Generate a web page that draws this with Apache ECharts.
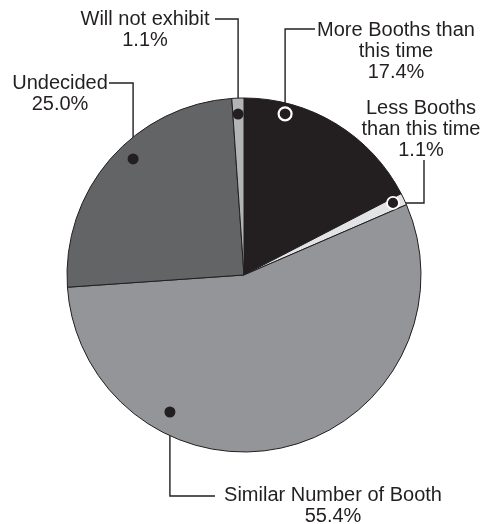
<!DOCTYPE html>
<html>
<head>
<meta charset="utf-8">
<script src="https://cdn.jsdelivr.net/npm/echarts@6/dist/echarts.min.js"></script>
<style>
html,body{margin:0;padding:0;background:#fff;}
#c{width:497px;height:524px;}
</style>
</head>
<body>
<div id="c"></div>
<script>
// ---- data ----
const categories = ['More Booths than\nthis time', 'Less Booths\nthan this time', 'Similar Number of Booth', 'Undecided', 'Will not exhibit'];
const percents = [17.4, 1.1, 55.4, 25.0, 1.1];
// marker positions inside the slices (angle clockwise from 12 o'clock, radius as fraction of pie radius)
const markerAngle = [14.3, 64.2, 208.4, 316.3, 357.9];
const markerRadius = [0.94, 0.935, 0.88, 0.907, 0.91];

// ---- style / layout ----
const colors = ['#231f20', '#e2e3e4', '#939598', '#636466', '#b2b4b6'];
const markerStyle = [
  {size: 13, border: 2.2},
  {size: 12, border: 1.8},
  {size: 11, border: 0},
  {size: 11, border: 0},
  {size: 11, border: 0}
];
const CX = 244, CY = 275, R = 177;
// label block: centre x, top y ; leader: corner, end
const labelPos = [
  {x: 396, y: 19.5, corner: 'v', endX: 315, endY: 29},
  {x: 421, y: 97.5, corner: 'h', endX: 424, endY: 160},
  {x: 333, y: 484.5, corner: 'v', endX: 215, endY: 496},
  {x: 60, y: 72.5, corner: 'v', endX: 109, endY: 83},
  {x: 145, y: 8.5, corner: 'v', endX: 215, endY: 19}
];

function markerXY(i) {
  const a = markerAngle[i] * Math.PI / 180;
  const r = markerRadius[i] * R;
  return [CX + r * Math.sin(a), CY - r * Math.cos(a)];
}

const chart = echarts.init(document.getElementById('c'), null, {renderer: 'canvas'});
const option = {
  animation: false,
  backgroundColor: '#ffffff',
  polar: {center: [CX, CY], radius: R},
  angleAxis: {type: 'value', min: 0, max: 360, startAngle: 90, clockwise: true,
    axisLine: {show: false}, axisTick: {show: false}, axisLabel: {show: false}, splitLine: {show: false}},
  radiusAxis: {type: 'value', min: 0, max: 1,
    axisLine: {show: false}, axisTick: {show: false}, axisLabel: {show: false}, splitLine: {show: false}},
  series: [
    {
      type: 'pie',
      center: [CX, CY],
      radius: R,
      startAngle: 90,
      clockwise: true,
      z: 2,
      emphasis: {disabled: true},
      itemStyle: {borderColor: '#231f20', borderWidth: 1},
      data: categories.map((c, i) => ({name: c, value: percents[i], itemStyle: {color: colors[i]}})),
      label: {
        show: true,
        position: 'outside',
        overflow: 'none',
        alignTo: 'none',
        formatter: p => p.name + '\n' + p.value.toFixed(1) + '%',
        fontFamily: 'Liberation Sans, Arial, sans-serif',
        fontSize: 20,
        lineHeight: 21,
        color: '#231f20',
        align: 'center'
      },
      labelLine: {show: true, lineStyle: {color: '#231f20', width: 1.4}},
      labelLayout: function (p) {
        const i = p.dataIndex;
        const lp = labelPos[i];
        const m = markerXY(i);
        const mid = lp.corner === 'v' ? [m[0], lp.endY] : [lp.endX, m[1]];
        return {
          x: lp.x, y: lp.y, align: 'center', verticalAlign: 'top',
          labelLinePoints: [m, mid, [lp.endX, lp.endY]]
        };
      }
    },
    {
      type: 'scatter',
      coordinateSystem: 'polar',
      z: 5,
      symbol: 'circle',
      silent: true,
      data: markerAngle.map((a, i) => ({
        value: [markerRadius[i], a],
        symbolSize: markerStyle[i].size,
        itemStyle: {color: '#231f20', borderColor: '#ffffff', borderWidth: markerStyle[i].border, opacity: 1}
      }))
    }
  ]
};
chart.setOption(option);
</script>
</body>
</html>
